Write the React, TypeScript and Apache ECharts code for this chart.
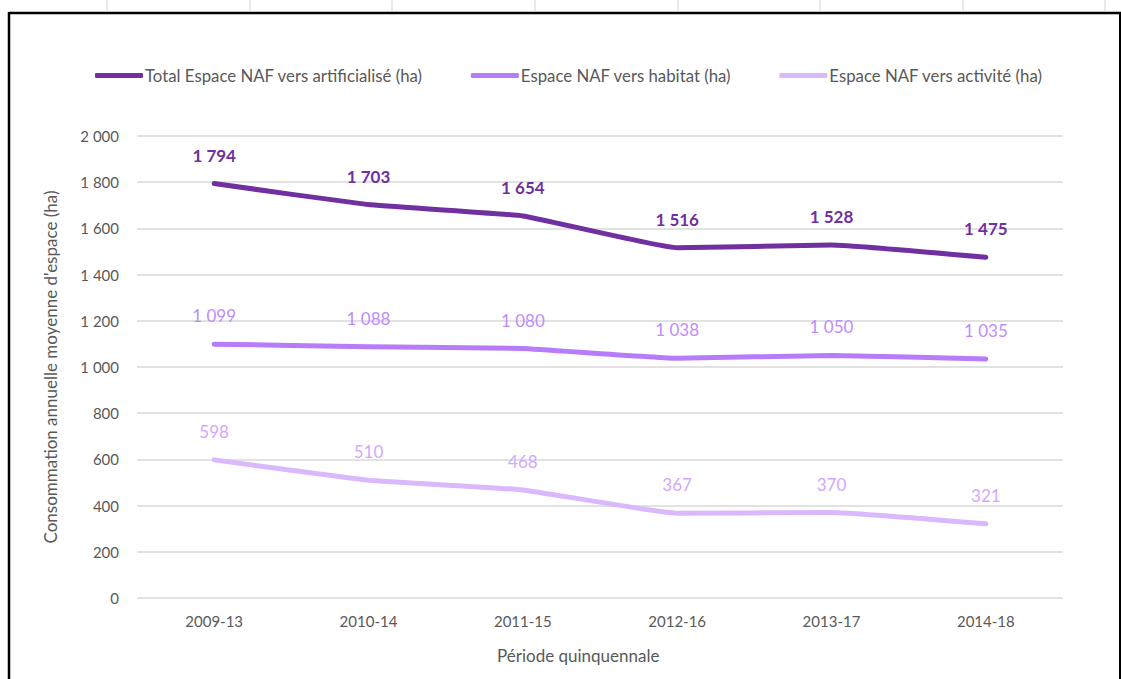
import React, { useEffect, useRef } from "react";
import * as echarts from "echarts";

const categories = ["2009-13", "2010-14", "2011-15", "2012-16", "2013-17", "2014-18"];
const totalValues = [1794, 1703, 1654, 1516, 1528, 1475];
const habitatValues = [1099, 1088, 1080, 1038, 1050, 1035];
const activiteValues = [598, 510, 468, 367, 370, 321];
const seriesNames = [
  "Total Espace NAF vers artificialisé (ha)",
  "Espace NAF vers habitat (ha)",
  "Espace NAF vers activité (ha)",
];
const topTickXs = [107, 250, 392, 535, 678, 820, 963, 1105];

const FONT = "Lato, 'Open Sans', sans-serif";
const fmt = (v: number) => {
  const s = String(Math.round(v));
  return s.length > 3 ? s.slice(0, s.length - 3) + " " + s.slice(-3) : s;
};

export default function App() {
  const ref = useRef<HTMLDivElement>(null);
  useEffect(() => {
    document.body.style.margin = "0";
    const chart = echarts.init(ref.current!, null, { renderer: "svg" });
    const mk = (name: string, data: number[], color: string, labelColor: string, bold: boolean) => ({
      name,
      type: "line",
      data,
      smooth: 0.1,
      symbol: "circle",
      symbolSize: 0,
      showSymbol: true,
      lineStyle: { color, width: 5, cap: "round", join: "round" },
      itemStyle: { color },
      label: {
        show: true,
        position: "top",
        distance: 20,
        color: labelColor,
        fontFamily: FONT,
        fontSize: 17,
        fontWeight: bold ? "bold" : "normal",
        formatter: (p: any) => fmt(p.value),
      },
    });
    chart.setOption({
      animation: false,
      backgroundColor: "#ffffff",
      legend: {
        top: 62,
        left: 90,
        itemWidth: 48,
        itemHeight: 5,
        itemGap: 48,
        icon: "roundRect",
        textStyle: { fontFamily: FONT, fontSize: 16.8, color: "#595959", padding: [0, 0, 0, -3] },
        data: seriesNames,
      },
      grid: { left: 137, right: 58, top: 136, bottom: 81 },
      xAxis: {
        type: "category",
        data: categories,
        boundaryGap: true,
        axisLine: { show: false },
        axisTick: { show: false },
        axisLabel: { color: "#595959", fontFamily: FONT, fontSize: 15, margin: 15 },
      },
      yAxis: {
        type: "value",
        min: 0,
        max: 2000,
        interval: 200,
        name: "Consommation annuelle moyenne d'espace (ha)",
        nameLocation: "middle",
        nameGap: 78,
        nameTextStyle: { color: "#595959", fontFamily: FONT, fontSize: 17 },
        axisLine: { show: false },
        axisTick: { show: false },
        splitLine: { lineStyle: { color: "#d9d9d9", width: 1.5 } },
        axisLabel: {
          color: "#595959",
          fontFamily: FONT,
          fontSize: 15,
          margin: 18,
          formatter: (v: number) => fmt(v),
        },
      },
      graphic: [
        { type: "line", shape: { x1: 9, y1: 13, x2: 1121, y2: 13 }, style: { stroke: "#000", lineWidth: 2.5 } },
        { type: "line", shape: { x1: 9, y1: 12, x2: 9, y2: 679 }, style: { stroke: "#000", lineWidth: 2.5 } },
        { type: "line", shape: { x1: 1120, y1: 12, x2: 1120, y2: 679 }, style: { stroke: "#000", lineWidth: 2 } },
        ...topTickXs.map((x) => ({
          type: "line",
          shape: { x1: x, y1: 0, x2: x, y2: 11 },
          style: { stroke: "#d4d4d4", lineWidth: 1 },
        })),
        {
          type: "text",
          left: 497,
          top: 647,
          style: { text: "Période quinquennale", fill: "#595959", font: `17px ${FONT}` },
        },
      ],
      series: [
        mk(seriesNames[0], totalValues, "#7030A0", "#7030A0", true),
        mk(seriesNames[1], habitatValues, "#B77CFA", "#C08CFC", false),
        mk(seriesNames[2], activiteValues, "#DAB8FC", "#D2A8FC", false),
      ],
    });
    return () => chart.dispose();
  }, []);
  return <div ref={ref} style={{ width: 1121, height: 679 }} />;
}
